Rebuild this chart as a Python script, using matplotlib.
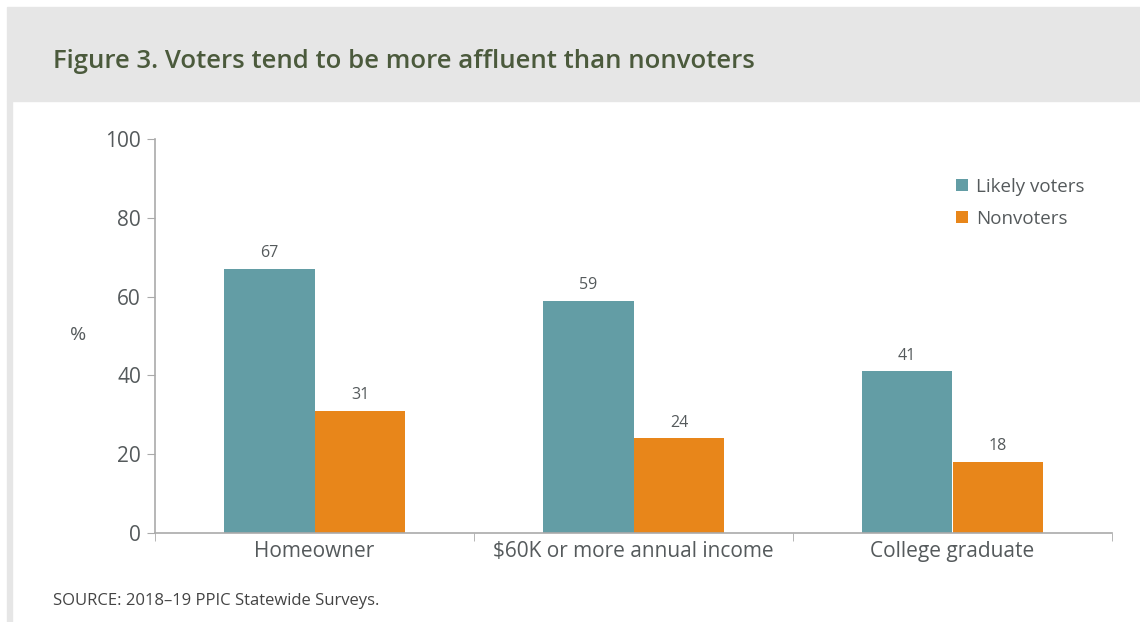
import matplotlib.pyplot as plt
from matplotlib.patches import Rectangle
import numpy as np

categories = ["Homeowner", "$60K or more annual income", "College graduate"]
likely_voters = [67, 59, 41]
nonvoters = [31, 24, 18]

teal = "#639da5"
orange = "#e8861a"
text_gray = "#555a5c"

plt.rcParams['font.family'] = ['Open Sans', 'DejaVu Sans']

W, H = 1140, 622
fig = plt.figure(figsize=(W / 100, H / 100), dpi=100)

# header band and left edge strip
band = "#e6e6e6"
fig.patches.append(Rectangle((7 / W, 1 - 101 / H), 1 - 7 / W, 94 / H,
                             transform=fig.transFigure, color=band, zorder=0))
fig.patches.append(Rectangle((7 / W, 0), 5 / W, 1 - 101 / H,
                             transform=fig.transFigure, color=band, zorder=0))
fig.text(53 / W, 1 - 62 / H, "Figure 3. Voters tend to be more affluent than nonvoters",
         fontsize=18.5, color="#4b5a3c", fontweight="semibold", va="center", ha="left")

ax = fig.add_axes([155 / W, 1 - 533 / H, (1112 - 155) / W, (533 - 139) / H])
x = np.arange(len(categories))
bw = 0.285
b1 = ax.bar(x - bw / 2, likely_voters, bw, color=teal, label="Likely voters")
b2 = ax.bar(x + bw / 2, nonvoters, bw, color=orange, label="Nonvoters")
for bars, vals in ((b1, likely_voters), (b2, nonvoters)):
    for rect, v in zip(bars, vals):
        ax.text(rect.get_x() + rect.get_width() / 2, v + 2, str(v),
                ha="center", va="bottom", fontsize=11.5, color=text_gray)

ax.set_xlim(-0.5, len(categories) - 0.5)
ax.set_ylim(0, 100)
ax.set_yticks(range(0, 101, 20))
ax.set_xticks(x)
ax.set_xticklabels(categories)
ax.set_xticks(np.arange(-0.5, len(categories), 1), minor=True)
ax.tick_params(axis="x", which="major", length=0, pad=6, labelsize=15, labelcolor=text_gray)
ax.tick_params(axis="x", which="minor", length=6, color="#aaaaaa")
ax.tick_params(axis="y", length=6, color="#aaaaaa", labelsize=15, labelcolor=text_gray, pad=4)
for side in ("top", "right"):
    ax.spines[side].set_visible(False)
for side in ("left", "bottom"):
    ax.spines[side].set_color("#aaaaaa")
    ax.spines[side].set_linewidth(1.2)

fig.text(78 / W, 1 - 335 / H, "%", fontsize=14, color=text_gray, ha="center", va="center")

ax.legend(loc="upper left", bbox_to_anchor=((948 - 155) / (1112 - 155), (533 - 170) / (533 - 139)),
          frameon=False, fontsize=13.5, handlelength=0.65, handleheight=0.65,
          handletextpad=0.45, labelspacing=0.75, labelcolor=text_gray, borderaxespad=0)

fig.text(53 / W, 1 - 601 / H, "SOURCE: 2018\u201319 PPIC Statewide Surveys.",
         fontsize=12, color="#444444", ha="left", va="center")

fig.savefig("out.png", dpi=100)
